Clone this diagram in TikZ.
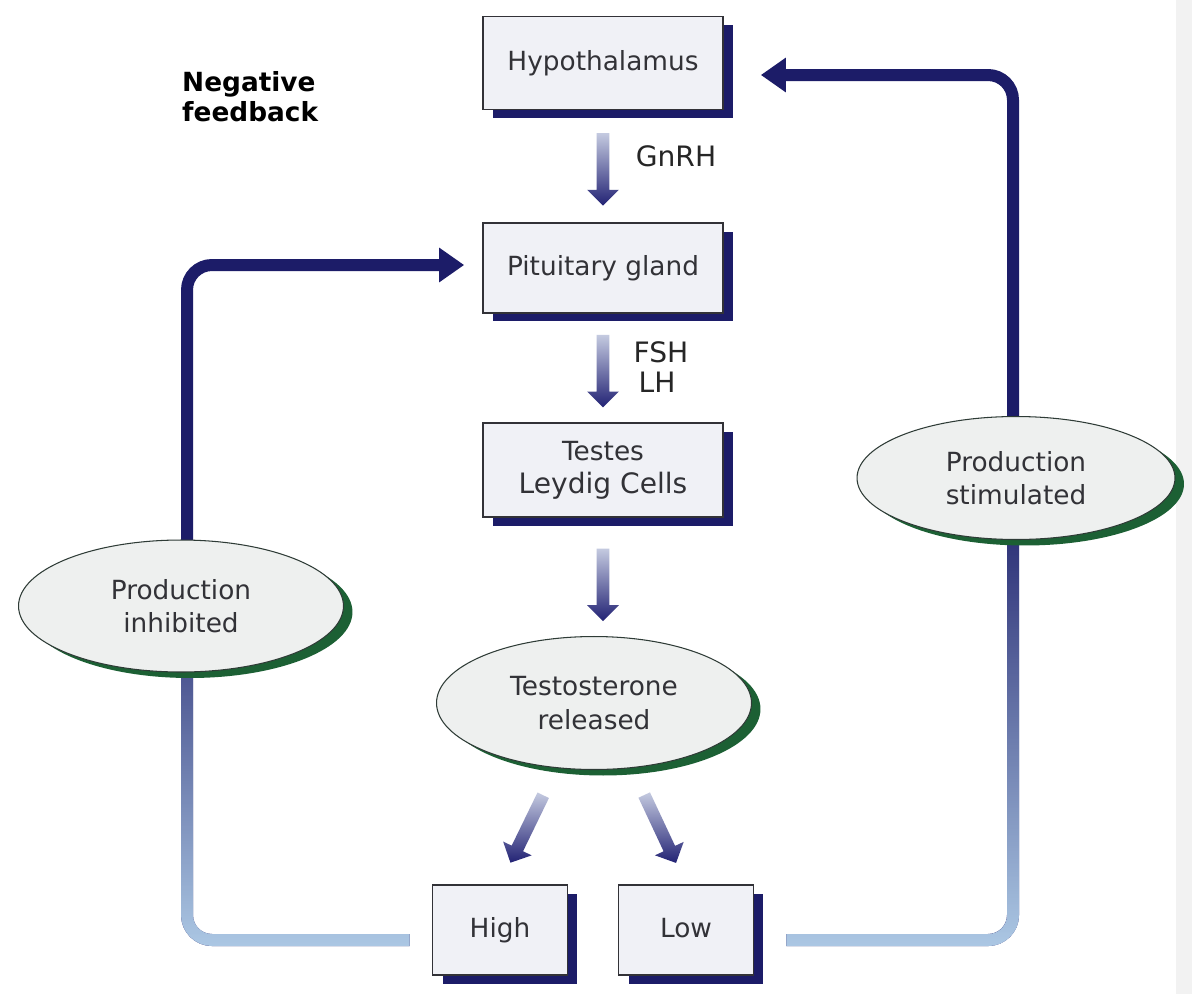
\documentclass[tikz,border=0pt]{standalone}
\usepackage{fontspec}
\setmainfont{DejaVu Sans}
\usetikzlibrary{positioning,calc,shapes.geometric,shapes.arrows,shadows,arrows.meta,fadings,backgrounds}

\definecolor{navy}{RGB}{28,28,104}
\definecolor{paleline}{RGB}{172,200,228}
\definecolor{boxfill}{RGB}{240,241,246}
\definecolor{ovalfill}{RGB}{238,240,239}
\definecolor{leaf}{RGB}{28,96,52}
\definecolor{arrowtop}{RGB}{196,202,224}
\definecolor{arrowbot}{RGB}{34,34,116}
\definecolor{inkgray}{RGB}{50,50,55}

\newcommand\handfont{\fontsize{16}{18}\selectfont}

\tikzfading[name=fadedown, top color=transparent!100, bottom color=transparent!0]

\tikzset{
  box/.style={draw=inkgray, line width=1pt, fill=boxfill, text=inkgray, align=center,
    font=\fontsize{15}{19}\selectfont,
    drop shadow={shadow xshift=0.2cm, shadow yshift=-0.17cm, fill=navy, opacity=1}},
  oval/.style={ellipse, draw=inkgray!80!leaf, line width=0.6pt, fill=ovalfill, text=inkgray,
    align=center, inner sep=0pt, font=\fontsize{15}{19}\selectfont,
    drop shadow={shadow xshift=0.18cm, shadow yshift=-0.12cm, fill=leaf, opacity=1}},
  fatarrow/.style={single arrow, minimum height=1.45cm, minimum width=0.62cm,
    single arrow head extend=0.19cm, inner sep=0.12cm, draw=none,
    top color=arrowtop, bottom color=arrowbot, sloped, allow upside down},
  feedline/.style={line width=0.24cm, rounded corners=0.5cm},
  hand/.style={font=\handfont, text=black!85}
}

\begin{document}
\begin{tikzpicture}[x=0.02cm,y=-0.02cm]
\useasboundingbox (0,0) rectangle (1192,994);

% The boxes
\node[box, minimum width=4.8cm, minimum height=1.86cm] (hyp) at (603,63) {Hypothalamus};
\node[box, minimum width=4.8cm, minimum height=1.8cm] (pit) at (603,268) {Pituitary gland};
\node[box, minimum width=4.8cm, minimum height=1.88cm] (tes) at (603,470) {Testes\\{\handfont Leydig Cells}};
\node[box, minimum width=2.7cm, minimum height=1.8cm, text height=1.1em, text depth=0.3em] (high) at (500,930) {High};
\node[box, minimum width=2.7cm, minimum height=1.8cm, text height=1.1em, text depth=0.3em] (low) at (686,930) {Low};

% The ovals
\node[oval, minimum width=6.3cm, minimum height=2.66cm] (tst) at (594,703) {Testosterone\\released};
\node[oval, minimum width=6.5cm, minimum height=2.64cm] (pinh) at (181,606) {Production\\inhibited};
\node[oval, minimum width=6.36cm, minimum height=2.46cm] (pstim) at (1016,478) {Production\\stimulated};

\node[anchor=west, align=left, font=\fontsize{15}{17}\selectfont\bfseries] (title) at (176,97) {Negative\\feedback};

% hormone arrows
\path (hyp.south) -- (pit.north) node[fatarrow, pos=0.5] (gnrharrow) {};
\path (pit.south) -- (tes.north) node[fatarrow, pos=0.5] (fsharrow) {};
\path (tes.south) -- (tes.south |- tst.north) node[fatarrow, pos=0.54] (tstarrow) {};
\path (tst.240) -- (high.north) node[fatarrow, pos=0.5, minimum height=1.5cm] (higharrow) {};
\path (tst.300) -- (low.north) node[fatarrow, pos=0.5, minimum height=1.5cm] (lowarrow) {};

\node[hand] (gnrh) at (676,156) {GnRH};
\node[hand] (fsh) at (661,352) {FSH};
\node[hand] (lh) at (657,382) {LH};

% feedback loops
\coordinate (lstart) at ($(high.west)+(-22,10)$);
\coordinate (lend) at ($(pit.west)+(-18,-3)$);
\coordinate (lcorner) at ($(pinh.center |- lend)+(6,0)$);
\coordinate (rstart) at ($(low.east)+(32,10)$);
\coordinate (rend) at ($(hyp.east)+(37,12)$);
\coordinate (rcorner) at ($(pstim.center |- rend)+(-3,0)$);
\begin{pgfonlayer}{background}
\fill[white] (0,0) rectangle (1192,994);
\fill[black!5] (1176,0) rectangle (1192,994);
\draw[feedline, navy, -{Triangle[width=0.66cm,length=0.5cm]}] (lstart) -| (lcorner) -- (lend);
\draw[feedline, paleline, path fading=fadedown] (lstart) -| (lcorner |- pinh.north);
\draw[feedline, navy, -{Triangle[width=0.66cm,length=0.5cm]}] (rstart) -| (rcorner) -- (rend);
\draw[feedline, paleline, path fading=fadedown] (rstart) -| (rcorner |- pstim.center);
\end{pgfonlayer}

\end{tikzpicture}
\end{document}
